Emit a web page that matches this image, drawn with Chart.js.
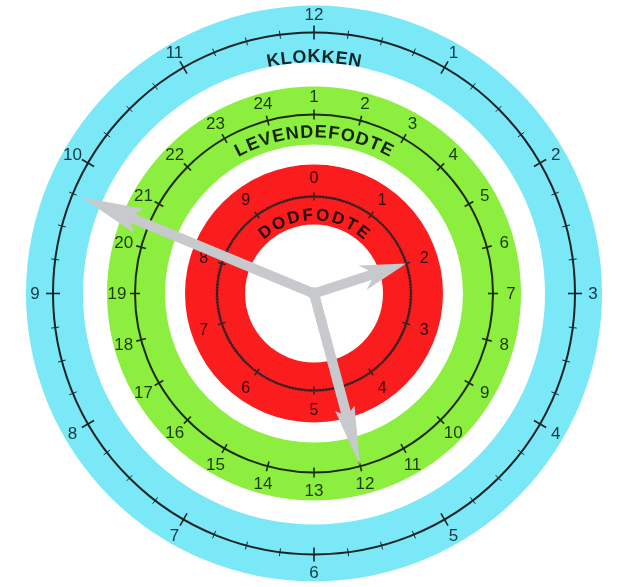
<!DOCTYPE html>
<html>
<head>
<meta charset="utf-8">
<script src="https://cdn.jsdelivr.net/npm/chart.js@4/dist/chart.umd.min.js"></script>
<style>
  html, body { margin: 0; padding: 0; background: #fff; }
  #wrap { width: 618px; height: 587px; }
</style>
</head>
<body>
<div id="wrap"><canvas id="clock" width="618" height="587"></canvas></div>
<script>
// --- data ---
const clockHours = [12, 1, 2, 3, 4, 5, 6, 7, 8, 9, 10, 11];
const liveHours = [1, 2, 3, 4, 5, 6, 7, 8, 9, 10, 11, 12, 13, 14, 15, 16, 17, 18, 19, 20, 21, 22, 23, 24];
const stillDigits = [0, 1, 2, 3, 4, 5, 6, 7, 8, 9];
const ringTitles = ["KLOKKEN", "LEVENDEFODTE", "DODFODTE"];
// hand readings: clock (hours), live births (hour on 24 scale), stillbirths (digit)
const handClock = 9.75;
const handLive = 12;
const handStill = 2;

const R0 = 288; // reference outer radius

// rings, outside -> inside: cyan, gap, green, gap, red
const ringColors = ["#7ae8f6", "rgba(0,0,0,0)", "#8cee3e", "rgba(0,0,0,0)", "#fb1d1d"];
const ringWeights = [57, 24, 58, 20, 60];

function arcText(ctx, cx, cy, text, r, font, spacing, color) {
  ctx.save();
  ctx.font = font;
  ctx.fillStyle = color;
  ctx.textAlign = "center";
  ctx.textBaseline = "middle";
  const widths = [...text].map((c) => ctx.measureText(c).width);
  const total = widths.reduce((a, b) => a + b, 0) + spacing * (text.length - 1);
  let acc = -total / 2;
  [...text].forEach((c, i) => {
    const a = (acc + widths[i] / 2) / r;
    ctx.save();
    ctx.translate(cx + r * Math.sin(a), cy - r * Math.cos(a));
    ctx.rotate(a);
    ctx.fillText(c, 0, 0);
    ctx.restore();
    acc += widths[i] + spacing;
  });
  ctx.restore();
}

function scaleRing(ctx, cx, cy, s, o) {
  ctx.save();
  ctx.strokeStyle = o.line;
  ctx.lineWidth = o.lw;
  ctx.beginPath();
  ctx.arc(cx, cy, o.r * s, 0, Math.PI * 2);
  ctx.stroke();
  // ticks
  const n = o.labels.length * o.sub;
  for (let i = 0; i < n; i++) {
    const a = (i / n) * Math.PI * 2;
    const major = i % o.sub === 0;
    const t = (major ? o.major : o.minor) * s;
    ctx.lineWidth = major ? 1.6 : 1;
    ctx.beginPath();
    ctx.moveTo(cx + (o.r * s - t) * Math.sin(a), cy - (o.r * s - t) * Math.cos(a));
    ctx.lineTo(cx + (o.r * s + t) * Math.sin(a), cy - (o.r * s + t) * Math.cos(a));
    ctx.stroke();
  }
  // labels
  ctx.fillStyle = o.color;
  ctx.font = o.font;
  ctx.textAlign = "center";
  ctx.textBaseline = "middle";
  o.labels.forEach((lab, i) => {
    const a = (i / o.labels.length) * Math.PI * 2;
    ctx.fillText(String(lab), cx + o.lr * s * Math.sin(a), cy - o.lr * s * Math.cos(a) + 1);
  });
  ctx.restore();
}

function hand(ctx, cx, cy, s, angle, len, w, headLen, headW, notch) {
  ctx.save();
  ctx.translate(cx, cy);
  ctx.rotate(angle - Math.PI / 2);
  const L = len * s;
  ctx.fillStyle = "#c7c9cc";
  ctx.beginPath();
  ctx.moveTo(-4, -w);
  ctx.lineTo(L - headLen, -w);
  ctx.lineTo(L - headLen - notch, -headW);
  ctx.lineTo(L, 0);
  ctx.lineTo(L - headLen - notch, headW);
  ctx.lineTo(L - headLen, w);
  ctx.lineTo(-4, w);
  ctx.closePath();
  ctx.fill();
  ctx.beginPath();
  ctx.arc(0, 0, w + 1, 0, Math.PI * 2);
  ctx.fill();
  ctx.restore();
}

const clockFace = {
  id: "clockFace",
  afterDatasetsDraw(chart) {
    const arc = chart.getDatasetMeta(0).data[0];
    const ctx = chart.ctx;
    const cx = arc.x, cy = arc.y;
    const s = arc.outerRadius / R0;

    scaleRing(ctx, cx, cy, s, {
      r: 261, lr: 279, labels: clockHours, sub: 4, major: 7, minor: 4,
      line: "#1b2326", lw: 2, color: "#123a44", font: "17px 'Liberation Sans', Arial, sans-serif"
    });
    scaleRing(ctx, cx, cy, s, {
      r: 179, lr: 197, labels: liveHours, sub: 1, major: 5, minor: 5,
      line: "#1f2a14", lw: 2, color: "#1d3a0a", font: "17px 'Liberation Sans', Arial, sans-serif"
    });
    scaleRing(ctx, cx, cy, s, {
      r: 97, lr: 116, labels: stillDigits, sub: 20, major: 4, minor: 1.5,
      line: "#3b2222", lw: 2, color: "#3a0808", font: "16px 'Liberation Sans', Arial, sans-serif"
    });

    arcText(ctx, cx, cy, ringTitles[0], 236 * s, "bold 18px 'Liberation Sans', Arial, sans-serif", 1, "#0e2529");
    arcText(ctx, cx, cy, ringTitles[1], 161 * s, "bold 18px 'Liberation Sans', Arial, sans-serif", 1.5, "#122308");
    arcText(ctx, cx, cy, ringTitles[2], 78 * s, "bold 17px 'Liberation Sans', Arial, sans-serif", 3, "#250404");

    const aClock = (handClock / clockHours.length) * Math.PI * 2;
    const aLive = ((handLive - 1) / liveHours.length) * Math.PI * 2;
    const aStill = (handStill / stillDigits.length) * Math.PI * 2;
    hand(ctx, cx, cy, s, aClock, 251, 5, 55, 13, 6);
    hand(ctx, cx, cy, s, aLive, 178, 5, 55, 10, 4);
    hand(ctx, cx, cy, s, aStill, 97, 5, 38, 13, 8);
  }
};

new Chart(document.getElementById("clock"), {
  type: "doughnut",
  data: {
    labels: ["ring"],
    datasets: ringColors.map((c, i) => ({
      data: [1],
      backgroundColor: c,
      borderWidth: 0,
      weight: ringWeights[i]
    }))
  },
  options: {
    responsive: false,
    animation: false,
    radius: R0,
    cutout: (69 / R0 * 100) + "%",
    layout: { padding: { left: 10, right: 0, top: 7, bottom: 7 } },
    events: [],
    plugins: { legend: { display: false }, tooltip: { enabled: false } }
  },
  plugins: [clockFace]
});
</script>
</body>
</html>
